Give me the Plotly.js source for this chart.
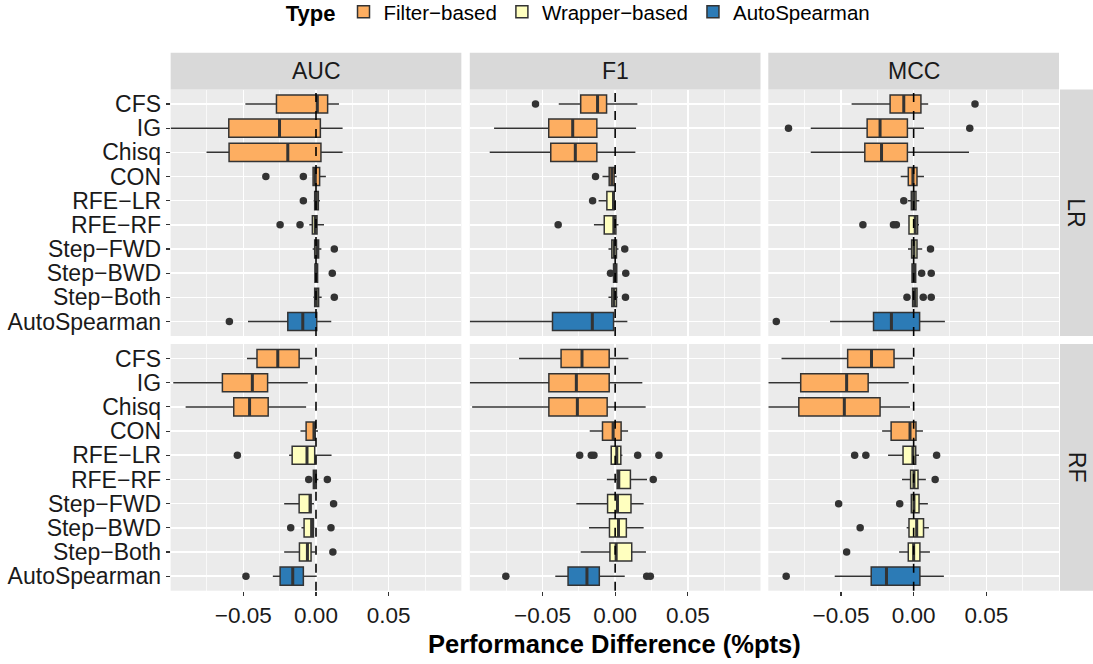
<!DOCTYPE html>
<html>
<head>
<meta charset="utf-8">
<script src="https://cdn.plot.ly/plotly-3.0.1.min.js"></script>
<style>html,body{margin:0;padding:0;background:#fff}</style>
</head>
<body>
<div id="chart" style="width:1093px;height:664px"></div>
<script>
// ---------- data ----------
const methods = ['CFS','IG','Chisq','CON','RFE\u2212LR','RFE\u2212RF','Step\u2212FWD','Step\u2212BWD','Step\u2212Both','AutoSpearman'];
const typeNames = ['Filter\u2212based','Wrapper\u2212based','AutoSpearman'];
const methodType = [0,0,0,0,1,1,1,1,1,2];
const typeColors = ['#FDAE61','#FFFFBF','#2C7BB6'];
const metrics = ['AUC','F1','MCC'];
const models = ['LR','RF'];
const xTickVals = [-0.05, 0, 0.05];
const xTickText = ['\u22120.05','0.00','0.05'];

// [lower whisker, q1, median, q3, upper whisker] per method
const auc_lr = [
  [-0.0486,-0.0272, 0.0009, 0.0080, 0.0158],
  [-0.1000,-0.0600,-0.0251, 0.0030, 0.0183],
  [-0.0753,-0.0598,-0.0194, 0.0034, 0.0183],
  [-0.0020,-0.0020,-0.0005, 0.0025, 0.0068],
  [-0.0016,-0.0009, 0.0002, 0.0016, 0.0027],
  [-0.0046,-0.0025,-0.0005, 0.0007, 0.0055],
  [-0.0023,-0.0009, 0.0005, 0.0018, 0.0037],
  [-0.0009,-0.0007, 0.0002, 0.0011, 0.0014],
  [-0.0018,-0.0009, 0.0002, 0.0018, 0.0039],
  [-0.0468,-0.0194,-0.0091, 0.0005, 0.0105]
];
const f1_lr = [
  [-0.0388,-0.0237,-0.0121,-0.0059, 0.0153],
  [-0.0833,-0.0457,-0.0292,-0.0126, 0.0144],
  [-0.0863,-0.0443,-0.0274,-0.0126, 0.0139],
  [-0.0087,-0.0041,-0.0023,-0.0007, 0.0011],
  [-0.0114,-0.0057,-0.0011,-0.0007, 0.0005],
  [-0.0146,-0.0075,-0.0009, 0.0005, 0.0023],
  [-0.0046,-0.0023,-0.0007, 0.0009, 0.0023],
  [-0.0014,-0.0011, 0.0000, 0.0011, 0.0014],
  [-0.0046,-0.0023,-0.0009, 0.0009, 0.0018],
  [-0.1000,-0.0431,-0.0157,-0.0011, 0.0084]
];
const mcc_lr = [
  [-0.0427,-0.0162,-0.0068, 0.0050, 0.0100],
  [-0.0708,-0.0320,-0.0231,-0.0043, 0.0071],
  [-0.0708,-0.0336,-0.0221,-0.0043, 0.0381],
  [-0.0089,-0.0037,-0.0005, 0.0023, 0.0071],
  [-0.0039,-0.0016, 0.0000, 0.0016, 0.0039],
  [-0.0032,-0.0032, 0.0011, 0.0027, 0.0037],
  [-0.0039,-0.0014, 0.0002, 0.0023, 0.0059],
  [-0.0011,-0.0011, 0.0000, 0.0014, 0.0014],
  [-0.0007,-0.0007, 0.0007, 0.0023, 0.0023],
  [-0.0575,-0.0276,-0.0153, 0.0041, 0.0215]
];
const auc_rf = [
  [-0.0475,-0.0406,-0.0263,-0.0116,-0.0025],
  [-0.0982,-0.0644,-0.0438,-0.0333,-0.0057],
  [-0.0897,-0.0566,-0.0457,-0.0329,-0.0068],
  [-0.0107,-0.0068,-0.0014,-0.0005, 0.0014],
  [-0.0185,-0.0164,-0.0062,-0.0009, 0.0107],
  [-0.0023,-0.0018,-0.0007, 0.0002, 0.0016],
  [-0.0219,-0.0116,-0.0041,-0.0034,-0.0014],
  [-0.0100,-0.0082,-0.0030,-0.0018,-0.0011],
  [-0.0219,-0.0114,-0.0059,-0.0034,-0.0007],
  [-0.0297,-0.0247,-0.0160,-0.0087, 0.0005]
];
const f1_rf = [
  [-0.0661,-0.0372,-0.0228,-0.0041, 0.0091],
  [-0.1000,-0.0456,-0.0267,-0.0041, 0.0187],
  [-0.0984,-0.0456,-0.0260,-0.0055, 0.0210],
  [-0.0175,-0.0087,-0.0014, 0.0041, 0.0089],
  [-0.0027,-0.0027, 0.0011, 0.0039, 0.0050],
  [-0.0057, 0.0014, 0.0025, 0.0105, 0.0219],
  [-0.0267,-0.0052, 0.0016, 0.0109, 0.0196],
  [-0.0180,-0.0039, 0.0023, 0.0077, 0.0196],
  [-0.0237,-0.0036, 0.0007, 0.0114, 0.0212],
  [-0.0412,-0.0324,-0.0194,-0.0109, 0.0066]
];
const mcc_rf = [
  [-0.0909,-0.0454,-0.0290,-0.0135,-0.0005],
  [-0.1000,-0.0777,-0.0461,-0.0313,-0.0034],
  [-0.1000,-0.0790,-0.0477,-0.0231,-0.0025],
  [-0.0217,-0.0155,-0.0025, 0.0016, 0.0064],
  [-0.0176,-0.0073,-0.0005, 0.0014, 0.0037],
  [-0.0080,-0.0021, 0.0002, 0.0030, 0.0084],
  [-0.0016,-0.0016, 0.0002, 0.0037, 0.0098],
  [-0.0048,-0.0032, 0.0021, 0.0068, 0.0105],
  [-0.0100,-0.0037, 0.0000, 0.0043, 0.0112],
  [-0.0543,-0.0292,-0.0187, 0.0043, 0.0208]
];

// outliers: [method index, value]
const auc_lr_out = [[3,-0.0345],[3,-0.0087],[4,-0.0087],[5,-0.0247],[5,-0.0110],[6,0.0126],[7,0.0112],[8,0.0126],[9,-0.0596]];
const f1_lr_out  = [[0,-0.0548],[3,-0.0135],[4,-0.0155],[5,-0.0392],[6,0.0066],[7,-0.0032],[7,0.0073],[8,0.0071]];
const mcc_lr_out = [[0,0.0422],[1,-0.0861],[1,0.0386],[4,-0.0068],[5,-0.0349],[5,-0.0139],[5,-0.0119],[6,0.0116],[7,0.0055],[7,0.0121],[8,-0.0046],[8,0.0066],[8,0.0121],[9,-0.0945]];
const auc_rf_out = [[4,-0.0541],[5,-0.0050],[5,0.0078],[6,0.0121],[7,-0.0174],[7,0.0103],[8,0.0116],[9,-0.0482]];
const f1_rf_out  = [[4,-0.0244],[4,-0.0164],[4,-0.0146],[4,0.0155],[4,0.0301],[5,0.0262],[9,-0.0752],[9,0.0217],[9,0.0242]];
const mcc_rf_out = [[4,-0.0406],[4,-0.0329],[4,0.0158],[5,0.0148],[6,-0.0516],[6,-0.0096],[7,-0.0368],[8,-0.0461],[9,-0.0877]];

// ---------- build ----------
const panels = [
  {stats: auc_lr, out: auc_lr_out}, {stats: f1_lr, out: f1_lr_out}, {stats: mcc_lr, out: mcc_lr_out},
  {stats: auc_rf, out: auc_rf_out}, {stats: f1_rf, out: f1_rf_out}, {stats: mcc_rf, out: mcc_rf_out}
];
const W = 1093, H = 664;
const colPx = [[170.65,461.35],[469.8,760.5],[768.3,1059.0]];
const rowPx = [[89.5,336],[344,590.7]];
const stripTop = 52.7;
const stripRight = 1060;

const traces = [];
const shapes = [];
const annotations = [];
const layout = {
  width: W, height: H,
  margin: {l:0, r:0, t:0, b:0, pad:0, autoexpand: false},
  paper_bgcolor: '#ffffff',
  plot_bgcolor: '#EBEBEB',
  font: {family: 'Liberation Sans, Arial, sans-serif', color: '#1a1a1a', size: 22},
  boxmode: 'overlay',
  showlegend: true,
  legend: {
    orientation: 'h', x: 0.53, xanchor: 'center', y: 1.012, yanchor: 'top',
    font: {size: 20.5, color: '#000'},
    title: {text: '<b>Type</b>', font: {size: 22, color: '#000'}, side: 'left'},
    itemwidth: 30, tracegroupgap: 0, bgcolor: 'rgba(0,0,0,0)'
  },
  shapes: shapes,
  annotations: annotations
};

panels.forEach((p, k) => {
  const r = Math.floor(k / 3), c = k % 3;
  const s = k === 0 ? '' : String(k + 1);
  const xa = 'x' + s, ya = 'y' + s;
  layout['xaxis' + s] = {
    domain: [colPx[c][0] / W, colPx[c][1] / W],
    anchor: ya, range: [-0.1, 0.1],
    tickvals: xTickVals, ticktext: xTickText,
    showticklabels: r === 1, ticks: r === 1 ? 'outside' : '',
    ticklen: 4, tickwidth: 1.1, tickcolor: '#333',
    tickfont: {size: 22.5, color: '#1a1a1a'},
    showgrid: true, gridcolor: '#ffffff', gridwidth: 1.6,
    minor: {dtick: 0.025, tick0: 0, showgrid: true, gridcolor: '#ffffff', gridwidth: 0.7, ticks: ''},
    zeroline: false, showline: false, fixedrange: true
  };
  layout['yaxis' + s] = {
    domain: [1 - rowPx[r][1] / H, 1 - rowPx[r][0] / H],
    anchor: xa, range: [10.6, 0.4],
    tickvals: methods.map((m, i) => i + 1), ticktext: methods,
    showticklabels: c === 0, ticks: c === 0 ? 'outside' : '',
    ticklen: 4, tickwidth: 1.1, tickcolor: '#333',
    tickfont: {size: 23, color: '#1a1a1a'},
    showgrid: true, gridcolor: '#ffffff', gridwidth: 1.6,
    zeroline: false, showline: false, fixedrange: true
  };

  // boxes, one trace per type
  typeNames.forEach((tn, t) => {
    const idx = methods.map((m, i) => i).filter(i => methodType[i] === t);
    traces.push({
      type: 'box', orientation: 'h', name: tn, legendgroup: tn, showlegend: k === 0,
      xaxis: xa, yaxis: ya,
      y: idx.map(i => i + 1),
      lowerfence: idx.map(i => p.stats[i][0]),
      q1: idx.map(i => p.stats[i][1]),
      median: idx.map(i => p.stats[i][2]),
      q3: idx.map(i => p.stats[i][3]),
      upperfence: idx.map(i => p.stats[i][4]),
      width: 0.75, whiskerwidth: 0, boxpoints: false,
      fillcolor: typeColors[t], line: {color: '#333333', width: 1.5},
      hoverinfo: 'skip'
    });
  });

  // thicker median bars
  const mx = [], my = [];
  p.stats.forEach((st, i) => { mx.push(st[2], st[2], null); my.push(i + 1 - 0.375, i + 1 + 0.375, null); });
  traces.push({type: 'scatter', mode: 'lines', x: mx, y: my, xaxis: xa, yaxis: ya,
    line: {color: '#333333', width: 3}, showlegend: false, hoverinfo: 'skip'});

  // outliers
  traces.push({type: 'scatter', mode: 'markers', xaxis: xa, yaxis: ya,
    x: p.out.map(o => o[1]), y: p.out.map(o => o[0] + 1),
    marker: {color: '#333333', size: 7.5}, showlegend: false, hoverinfo: 'skip'});

  // dashed zero line
  shapes.push({type: 'line', xref: xa, yref: ya + ' domain', x0: 0, x1: 0, y0: 0, y1: 1,
    line: {color: '#000000', width: 1.6, dash: 'dash'}, layer: 'above'});
});

// strips
metrics.forEach((m, c) => {
  shapes.push({type: 'rect', xref: 'paper', yref: 'paper', layer: 'below',
    x0: colPx[c][0] / W, x1: colPx[c][1] / W, y0: 1 - rowPx[0][0] / H, y1: 1 - stripTop / H,
    fillcolor: '#D9D9D9', line: {width: 0}});
  annotations.push({xref: 'paper', yref: 'paper', x: (colPx[c][0] + colPx[c][1]) / 2 / W,
    y: 1 - (stripTop + rowPx[0][0]) / 2 / H, text: m, showarrow: false,
    font: {size: 23, color: '#1a1a1a'}, xanchor: 'center', yanchor: 'middle'});
});
models.forEach((m, r) => {
  shapes.push({type: 'rect', xref: 'paper', yref: 'paper', layer: 'below',
    x0: stripRight / W, x1: 1, y0: 1 - rowPx[r][1] / H, y1: 1 - rowPx[r][0] / H,
    fillcolor: '#D9D9D9', line: {width: 0}});
  annotations.push({xref: 'paper', yref: 'paper', x: (stripRight + W) / 2 / W,
    y: 1 - (rowPx[r][0] + rowPx[r][1]) / 2 / H, text: m, showarrow: false, textangle: 90,
    font: {size: 23, color: '#1a1a1a'}, xanchor: 'center', yanchor: 'middle'});
});
// x axis title
annotations.push({xref: 'paper', yref: 'paper', x: (colPx[0][0] + colPx[2][1]) / 2 / W, y: 1 - 644 / H,
  text: '<b>Performance Difference (%pts)</b>', showarrow: false,
  font: {size: 25.5, color: '#000'}, xanchor: 'center', yanchor: 'middle'});

Plotly.newPlot('chart', traces, layout, {staticPlot: true, displayModeBar: false});
</script>
</body>
</html>
